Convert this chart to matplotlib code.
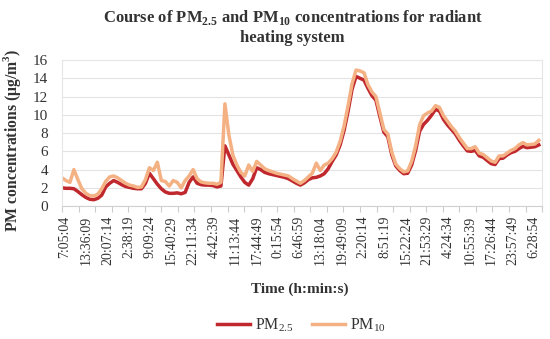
import numpy as np
import matplotlib
matplotlib.use('Agg')
import matplotlib.pyplot as plt

plt.rcParams['font.family'] = ['Liberation Serif', 'DejaVu Serif']
plt.rcParams['mathtext.fontset'] = 'custom'
plt.rcParams['mathtext.rm'] = 'Liberation Serif'
plt.rcParams['mathtext.bf'] = 'Liberation Serif:bold'

# time labels shown on the category axis
time_labels = ['7:05:04', '13:36:09', '20:07:14', '2:38:19', '9:09:24', '15:40:29',
               '22:11:34', '4:42:39', '11:13:44', '17:44:49', '0:15:54', '6:46:59',
               '13:18:04', '19:49:09', '2:20:14', '8:51:19', '15:22:24', '21:53:29',
               '4:24:34', '10:55:39', '17:26:44', '23:57:49', '6:28:54']

# concentrations (ug/m3) at even steps
pm25 = [2.0, 1.95, 1.95, 1.9, 1.6, 1.25, 0.95, 0.75, 0.7, 0.85,
        1.2, 2.1, 2.5, 2.8, 2.6, 2.35, 2.15, 2.05, 1.95, 1.9,
        1.9, 2.5, 3.6, 3.0, 2.4, 1.9, 1.55, 1.4, 1.4, 1.45,
        1.35, 1.5, 2.6, 3.2, 2.5, 2.35, 2.3, 2.3, 2.25, 2.1,
        2.2, 6.6, 5.6, 4.6, 3.9, 3.2, 2.6, 2.3, 3.0, 4.2,
        4.0, 3.7, 3.55, 3.45, 3.35, 3.25, 3.15, 3.0, 2.75, 2.5,
        2.3, 2.55, 2.9, 3.1, 3.15, 3.3, 3.55, 4.1, 4.9, 5.6,
        6.7, 8.3, 10.4, 12.8, 14.2, 14.0, 13.8, 12.9, 12.1, 11.6,
        9.8, 8.1, 7.6, 5.6, 4.4, 3.9, 3.55, 3.6, 4.5, 6.1,
        8.2, 8.95, 9.4, 9.95, 10.6, 10.4, 9.5, 8.9, 8.4, 7.9,
        7.2, 6.6, 6.05, 6.0, 6.1, 5.5, 5.35, 5.0, 4.65, 4.55,
        5.2, 5.25, 5.6, 5.85, 6.0, 6.3, 6.55, 6.4, 6.45, 6.5,
        6.7]

pm10 = [3.1, 2.8, 2.6, 4.0, 2.9, 1.9, 1.4, 1.15, 1.1, 1.3,
        1.9, 2.7, 3.2, 3.3, 3.1, 2.8, 2.5, 2.3, 2.2, 2.05,
        2.1, 2.9, 4.2, 3.9, 4.8, 2.8, 2.7, 2.2, 2.8, 2.6,
        2.0, 2.8, 3.3, 4.0, 3.0, 2.65, 2.55, 2.5, 2.5, 2.4,
        2.6, 11.2, 7.8, 5.6, 4.5, 3.7, 3.3, 4.5, 3.8, 4.9,
        4.5, 4.1, 3.9, 3.75, 3.6, 3.5, 3.4, 3.3, 3.0, 2.75,
        2.5, 2.8, 3.2, 3.6, 4.7, 3.9, 4.5, 4.7, 5.2, 5.9,
        7.1, 8.8, 11.0, 13.4, 14.9, 14.8, 14.6, 13.3, 12.5, 12.0,
        10.2, 8.4, 7.9, 5.9, 4.6, 4.1, 3.75, 3.85, 4.9, 6.6,
        8.9, 9.9, 10.2, 10.4, 11.0, 10.8, 9.9, 9.3, 8.7, 8.2,
        7.5, 6.9, 6.3, 6.3, 6.5, 5.8, 5.65, 5.3, 4.95, 4.8,
        5.5, 5.5, 5.8, 6.1, 6.3, 6.7, 6.95, 6.7, 6.75, 6.8,
        7.2]

x = np.arange(len(pm25))

fig = plt.figure(figsize=(5.5, 3.39), dpi=100)
ax = fig.add_axes([0.1127, 0.392, 0.873, 0.431])

ax.plot(x, pm25, color='#C0282D', lw=2.5, label=r'PM$_{2.5}$', solid_joinstyle='round')
ax.plot(x, pm10, color='#F4B183', lw=2.5, label=r'PM$_{10}$', solid_joinstyle='round')

ax.set_xlim(0, len(pm25) - 1)
ax.set_ylim(0, 16)
ax.set_yticks(np.arange(0, 17, 2))
ax.tick_params(axis='y', length=0, labelsize=11, colors='#333333', pad=10)
ax.grid(axis='y', color='#E3E3E3', lw=0.8)
ax.set_axisbelow(True)

label_pos = 0.75 + np.arange(len(time_labels)) * 5.3625
ax.set_xticks(label_pos)
ax.set_xticklabels(time_labels, rotation=90, fontsize=10, color='#333333')
ax.tick_params(axis='x', length=0, pad=7)
ax.set_xticks(np.arange(0, len(pm25), 4.1667), minor=True)
ax.tick_params(axis='x', which='minor', length=4, color='#CCCCCC', width=0.8)

for s in ['top', 'right', 'left']:
    ax.spines[s].set_color('#E6E6E6')
    ax.spines[s].set_linewidth(0.8)
ax.spines['bottom'].set_color('#D0D0D0')

fig.text(0.532, 0.975, r'Course of PM$_\mathbf{2.5}$ and PM$_\mathbf{10}$ concentrations for radiant' + '\nheating system',
         ha='center', va='top', fontsize=12, fontweight='bold', color='#333333', linespacing=1.25)
ax.set_ylabel(r'PM concentrations (μg/m$^\mathbf{3}$)', fontsize=11.3, fontweight='bold', color='#333333')
ax.yaxis.set_label_coords(-0.082, 0.45)
fig.text(0.545, 0.147, 'Time (h:min:s)', ha='center', va='center', fontsize=11, fontweight='bold', color='#333333')

ax.legend(loc='center', bbox_to_anchor=(0.548, 0.041), bbox_transform=fig.transFigure,
          ncol=2, frameon=False, fontsize=11.5, handlelength=2.1, handletextpad=0.3,
          columnspacing=1.1, labelcolor='#333333')

fig.savefig('out.png', dpi=100)
